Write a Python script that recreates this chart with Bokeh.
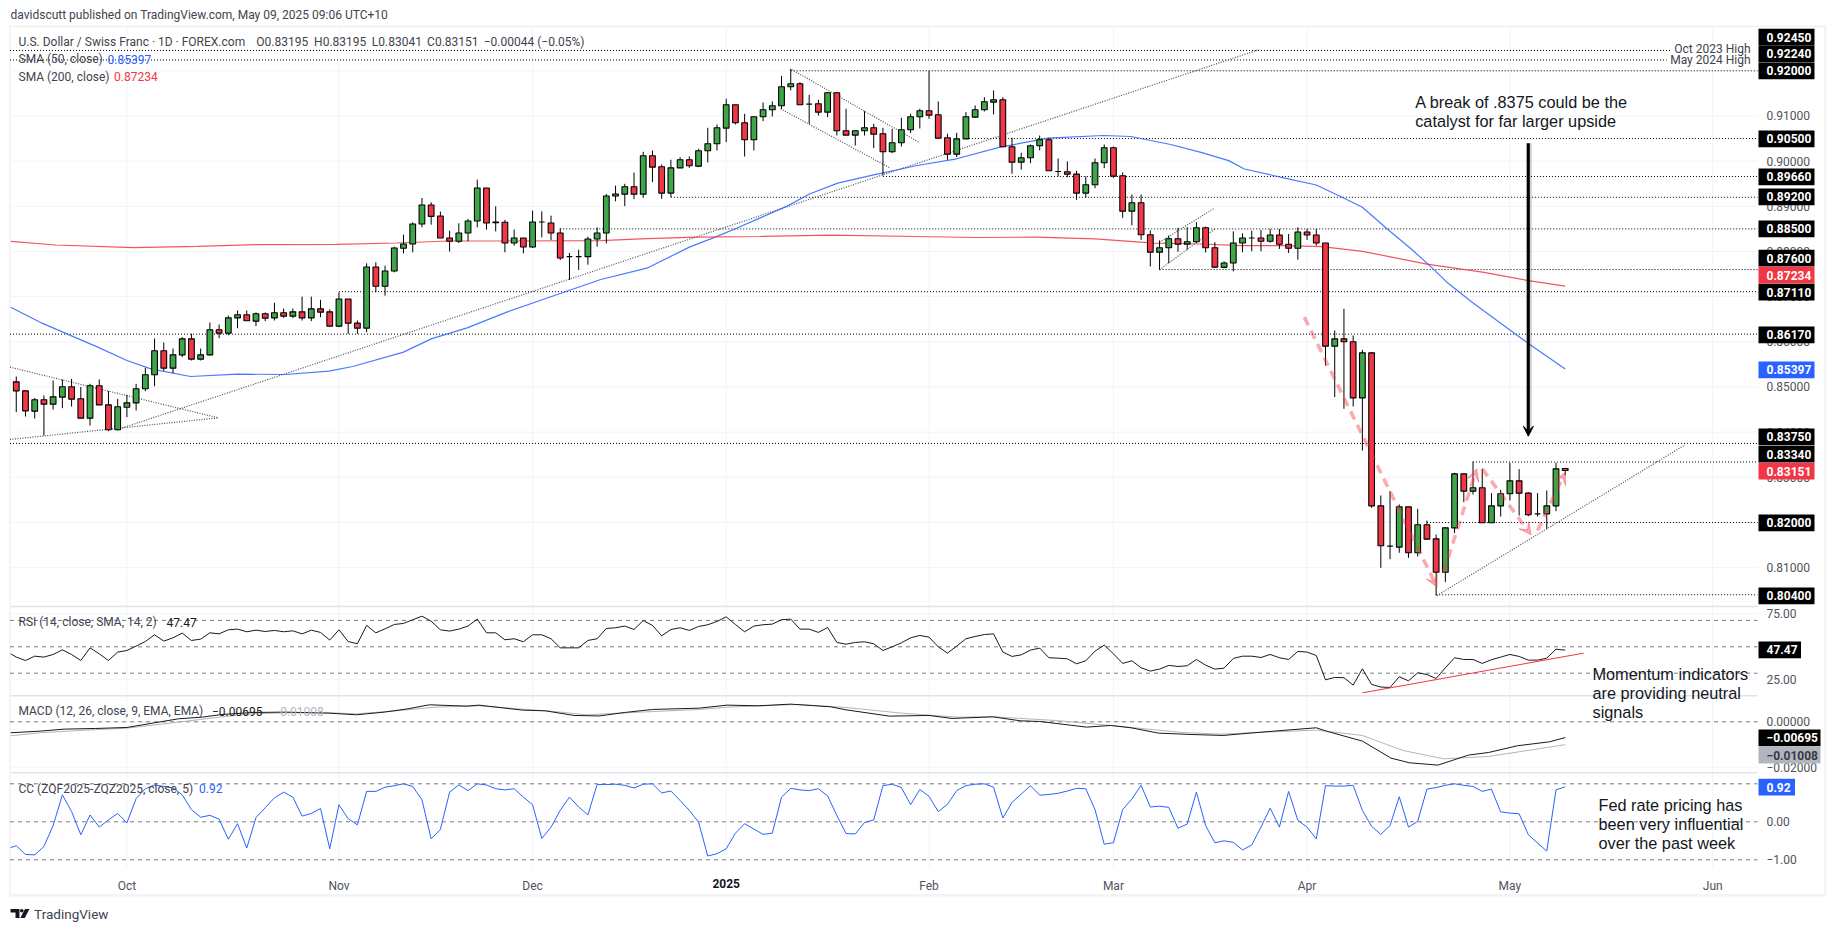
from bokeh.plotting import figure
from bokeh.models import (Range1d, LinearAxis, FixedTicker, Arrow, VeeHead, ColumnDataSource)
from bokeh.core.properties import value
from bokeh.embed import file_html
from bokeh.resources import INLINE

# ---------- data ----------
opens = [
 .85114,.84915,.84465,.84716,.8462,.84775,.85004,.84738,.8431,.85026,
 .84605,.84052,.84553,.84649,.8496,.8527,.85801,.85417,.85712,.86066,
 .85616,.85712,.86266,.86192,.86531,.86598,.86458,.8662,.86531,.86642,
 .86568,.86664,.86531,.8673,.86664,.86347,.86948,.86413,.86303,.87657,
 .87229,.87568,.8807,.88166,.88609,.8903,.88786,.88299,.88225,.8841,
 .88675,.89406,.88653,.88646,.88188,.883,.881,.88653,.88631,.8841,
 .87886,.87886,.87886,.88277,.8841,.89229,.89269,.89432,.89269,.90118,
 .89875,.89292,.89852,.9003,.89889,.90229,.90384,.90731,.91247,.90849,
 .90472,.90982,.91137,.91225,.91646,.91712,.91262,.91269,.91085,.91513,
 .90672,.90576,.90672,.90738,.90605,.90207,.90406,.90694,.90982,.91114,
 .91026,.90517,.90155,.90494,.90974,.91137,.91306,.91358,.90317,.89978,
 .90074,.9034,.90472,.89771,.89764,.89712,.89292,.89476,.89963,.90295,
 .89675,.88893,.89078,.88369,.87985,.88081,.88281,.88162,.88214,.88524,
 .88081,.87649,.87745,.88188,.883,.883,.88225,.88365,.88159,.8807,
 .88432,.88365,.88188,.85904,.86066,.86,.8476,.85756,.82369,.81476,
 .81454,.82347,.81329,.81949,.81638,.809,.81882,.83077,.82694,.82768,
 .81993,.82369,.82635,.82922,.8265,.82192,.82192,.82369,.83195]
highs = [
 .85232,.84915,.8476,.84812,.85144,.85166,.85181,.85,.8507,.85166,
 .84908,.84738,.84827,.8507,.85424,.86074,.85985,.85852,.86103,.86177,
 .85852,.86428,.86384,.86583,.86694,.86694,.8665,.8665,.86863,.86738,
 .86738,.87,.87,.8693,.8672,.87096,.86948,.86472,.87738,.8776,
 .87686,.88107,.88373,.88646,.89184,.89089,.88882,.88461,.88624,.8872,
 .8959,.89406,.89,.887,.88483,.883,.88904,.88889,.88793,.88513,
 .87967,.88041,.88328,.88535,.89273,.89458,.89498,.89749,.90207,.90236,
 .89926,.9003,.90089,.90103,.90273,.90738,.90812,.9138,.91247,.91048,
 .90982,.91299,.9132,.91889,.92044,.91749,.91469,.91358,.91528,.91528,
 .91159,.9068,.91107,.90827,.90738,.90716,.90959,.91048,.91159,.92,
 .9132,.90605,.90627,.91085,.91232,.91417,.91565,.91417,.90517,.90185,
 .90369,.90568,.90517,.90059,.89993,.89786,.89661,.90059,.90369,.90325,
 .89749,.89262,.89262,.88465,.88244,.88354,.88524,.88539,.88649,.88554,
 .88207,.87782,.88446,.88402,.88461,.88476,.885,.885,.88387,.88535,
 .885,.885,.88188,.86251,.86731,.8614,.85823,.85771,.82598,.82694,
 .82399,.82347,.82303,.82044,.81734,.81897,.83099,.83077,.83351,.83188,
 .8265,.82723,.83321,.83181,.82672,.8265,.82709,.83321,.83195]
lows = [
 .84443,.84347,.84303,.83926,.84502,.84531,.84568,.8431,.84148,.84605,
 .84022,.84037,.84332,.8448,.84908,.85018,.85358,.85306,.85661,.85587,
 .85587,.85697,.86081,.86148,.86303,.86465,.86347,.86458,.86472,.86531,
 .86524,.86472,.86458,.86546,.86347,.86325,.86177,.86177,.86214,.87096,
 .87022,.87539,.87959,.87982,.88535,.88594,.88299,.87999,.88188,.88225,
 .88535,.88483,.88446,.87982,.88129,.87959,.88077,.88314,.88255,.87812,
 .87369,.8759,.87708,.88107,.88181,.89111,.89004,.89159,.89188,.89535,
 .89166,.89203,.89852,.89852,.89867,.89971,.90236,.90421,.90812,.90103,
 .90236,.90886,.90989,.91151,.91565,.91247,.90826,.91011,.90974,.90568,
 .90576,.90347,.90568,.90288,.89683,.90177,.90325,.9062,.90723,.90937,
 .90509,.9003,.90089,.90494,.90959,.911,.91033,.90317,.8972,.89815,
 .89956,.90236,.89786,.89661,.89646,.89144,.89188,.89402,.89845,.89631,
 .88745,.88576,.88258,.87668,.87594,.87742,.87993,.88037,.88185,.87978,
 .87638,.87627,.87561,.87982,.88004,.88004,.88196,.88055,.87967,.87819,
 .88255,.88129,.85476,.84775,.84517,.84568,.83594,.82325,.80996,.81188,
 .81329,.81218,.81247,.81616,.80384,.80679,.81764,.8245,.8262,.81993,
 .81993,.82133,.82487,.82155,.8214,.82133,.8186,.82251,.83041]
closes = [
 .84915,.84472,.84716,.8462,.84782,.85004,.84731,.8431,.85026,.84605,
 .84052,.84561,.84649,.8496,.8527,.85801,.85417,.85712,.86066,.85616,
 .85712,.86266,.86192,.86531,.86598,.86465,.8662,.86524,.86642,.86568,
 .86664,.86531,.8673,.86657,.86347,.86948,.86413,.86303,.87657,.87229,
 .87568,.88077,.88166,.88609,.8903,.88778,.88299,.88225,.8841,.88675,
 .89406,.88631,.88639,.88188,.883,.881,.88653,.88653,.8841,.87856,
 .87886,.87886,.88277,.8841,.89229,.89273,.89432,.89269,.90118,.89867,
 .89292,.89852,.9003,.89897,.90229,.90384,.90738,.91247,.90849,.90472,
 .90982,.91137,.91225,.91646,.91712,.91247,.91262,.91085,.91513,.90672,
 .90576,.90672,.90738,.90598,.90207,.90406,.90694,.90982,.91114,.91018,
 .90509,.90155,.90494,.90982,.91137,.91314,.91358,.90317,.89978,.90074,
 .9034,.90472,.89786,.89771,.89712,.89292,.89476,.89963,.90295,.89668,
 .88893,.89078,.88369,.87985,.88081,.88281,.88162,.88214,.88524,.88081,
 .87653,.87745,.88188,.883,.883,.88225,.88365,.88159,.8807,.88432,
 .88365,.88188,.85904,.86066,.86,.8476,.85756,.82369,.81484,.81476,
 .82347,.81329,.81949,.81631,.809,.81882,.83077,.82694,.82768,.81993,
 .82369,.82635,.82922,.8265,.8217,.82192,.82369,.83188,.83151]

sma50_x = [-0.6,2.8,5.8,8.6,12,14.6,18.9,24,29.2,33.9,36.5,42,45,48.9,53.2,56.8,63.4,68.5,73,75.8,78,83.6,86.1,89.1,93,97.7,102,106.7,111.9,117.9,120.9,125.2,128.5,131.5,133.2,137.7,141,143.8,146,148.7,151.3,153.3,155.3,157.9,161,163.8,168]
sma50_y = [.86767,.86413,.86148,.85904,.85587,.85402,.85232,.85284,.85277,.8535,.85454,.85771,.86066,.8631,.86657,.86915,.8738,.87638,.88096,.88317,.88502,.89004,.89277,.89513,.89697,.89904,.90052,.9031,.90509,.90568,.90546,.90369,.90195,.90011,.89826,.8962,.89472,.89199,.88978,.88498,.88055,.87686,.87295,.86875,.86413,.85993,.85397]
sma200_x = [-0.6,4.3,12.7,19.7,26.2,34.7,41.2,46.8,54,63.4,67.7,73.7,80.6,88.3,97.7,104.1,110.6,117,123.4,128.5,132.9,137.3,141.6,146,153,159.2,164,168]
sma200_y = [.88225,.88144,.88085,.88114,.88151,.88159,.88188,.88232,.88232,.8824,.8828,.88317,.88332,.88362,.88332,.8831,.88317,.8828,.88185,.88166,.88129,.88129,.88107,.88004,.8772,.87539,.87354,.87234]

rsi_vals = [44.7,
 42.2,39.6,42.9,42.2,44.2,47.7,44.2,39.6,49.2,44.7,
 39.6,46.0,47.2,50.5,54.0,59.1,54.3,56.8,60.4,54.8,
 55.8,60.6,59.8,62.9,63.4,61.4,62.6,61.6,62.4,61.4,
 62.1,59.8,62.6,60.9,55.1,62.9,54.0,52.3,66.2,60.6,
 63.6,66.9,67.7,70.5,73.2,69.4,62.9,61.9,63.4,65.7,
 71.0,60.6,60.6,55.3,56.1,53.8,59.1,59.1,56.1,49.2,
 49.2,49.2,54.8,56.1,63.9,64.4,65.7,63.1,69.9,66.2,
 58.3,63.1,64.4,62.4,65.4,66.7,69.2,72.7,66.9,61.4,
 65.7,66.7,67.2,70.5,71.0,63.4,63.4,60.9,64.6,53.3,
 52.0,53.3,53.8,52.3,47.2,50.0,53.0,56.8,58.6,57.3,
 50.0,45.2,50.5,56.1,57.8,59.3,59.8,46.0,42.7,43.9,
 47.5,49.0,41.7,41.4,40.9,37.1,39.4,46.7,51.3,44.7,
 37.4,39.4,34.1,31.6,33.1,35.9,35.1,35.6,40.4,36.1,
 33.1,33.8,41.2,42.9,42.9,41.9,44.2,41.7,40.4,46.5,
 46.0,43.4,25.0,26.8,26.6,21.0,33.3,21.5,19.5,19.2,
 27.3,24.2,30.3,29.0,26.0,34.1,41.7,40.4,40.4,37.4,
 40.2,42.2,44.2,42.7,39.9,39.9,41.4,48.2,47.47]

macd_x = [-0.6,2.6,5.2,8.6,12,15,17.6,20.2,22.3,25.7,29.2,33.9,36.9,39.9,42.5,44.8,48.9,50.2,54.9,57.4,60.5,63.2,66,69,74.1,77.1,80.5,84,88.3,90,94.7,99,101.5,105.9,108.9,111,116.1,118.7,120.9,123.9,127.3,130.9,134.2,136.4,141,142.1,146,149.1,151.1,154.2,157.5,159.7,162.8,166.3,168]
macd_y = [-.00484,-.00411,-.00323,-.00294,-.0025,-.00044,.00132,.00206,.00323,.00411,.00426,.00382,.00308,.00426,.00573,.00749,.0069,.00734,.00514,.00484,.00279,.00257,.00411,.00543,.00602,.00734,.00705,.00778,.00661,.00528,.0025,.00279,.00147,.0022,.00044,.00015,-.00235,-.00161,-.00264,-.00499,-.00558,-.00602,-.00484,-.00411,-.00264,-.00411,-.00851,-.016,-.01806,-.01908,-.01468,-.01351,-.01057,-.00881,-.00695]
signal_x = [-0.6,2.6,6.9,12,17.6,22.3,25.7,29.2,33.9,36.9,41.2,45.5,50.2,54.9,58.3,61.8,67.7,74.1,77.1,84.8,90,96,102,105.9,112.7,118.7,126.4,130.6,136.4,141,146,150.4,154.8,159.7,168]
signal_y = [-.00617,-.00484,-.00382,-.00279,-.00015,.0022,.00352,.00396,.00396,.00352,.00484,.00646,.00705,.00558,.00455,.00308,.00426,.00543,.00646,.00763,.00631,.00382,.00206,.0022,.00059,-.00161,-.0047,-.00543,-.0044,-.00367,-.00602,-.01262,-.0163,-.01527,-.01008]

cc_vals = [-.68,
 -.63,-.86,-.87,-.65,-.10,.71,.27,-.34,.18,-.14,
 .05,.22,-.03,.61,.87,.97,.93,.89,.71,.32,
 .12,.17,.07,-.46,-.05,-.69,.11,.37,.63,.78,
 .65,.15,.22,.35,-.71,.45,.08,-.08,.80,.80,
 .91,.95,1.0,.93,.58,-.45,-.20,.78,.97,.82,
 1.0,.97,.87,.84,.87,.65,.45,-.44,-.14,.30,
 .65,.39,.18,.98,.98,.99,.96,.89,.99,1.0,
 .76,.81,.56,.30,-.01,-.90,-.84,-.71,-.30,-.05,
 -.19,-.33,-.30,.65,.88,.84,.82,.87,.68,.17,
 -.31,-.32,-.02,.05,.95,.99,.90,.45,.85,.67,
 .27,.46,.82,.95,.99,1.0,.91,.10,.51,.73,
 .95,.70,.72,.75,.81,.88,.87,.32,-.59,-.55,
 .32,.60,.96,.39,.41,.38,-.17,-.06,.78,-.10,
 -.55,-.50,-.54,-.74,-.61,-.14,.36,-.14,.80,.04,
 -.14,-.45,.95,.94,.94,.96,.30,-.12,-.33,-.10,
 .66,-.14,.01,.86,.90,.96,1.0,.96,.93,.80,
 .86,.26,.23,.21,-.34,-.56,-.77,.84,.92]

time_ticks = [12,35,56,77,99,119,140,162,184]
time_labels = ["Oct","Nov","Dec","2025","Feb","Mar","Apr","May","Jun"]
price_ticks = [.81,.82,.83,.84,.85,.86,.87,.88,.89,.90,.91,.92]
rsi_ticks = [25,75]
rsi_bands = [70,50,30]
macd_ticks = [0,-.02]
cc_ticks = [-1,0,1]

level_vals = [.9245,.9224,.92,.905,.8966,.892,.885,.876,.8711,.8617,.8375,.8334,.82,.804]
level_from = [-0.68,-0.68,84,103,94,71,59,124,35,-0.68,-0.68,158,153,154]
level_to   = [179.5,179,188.85,188.85,188.85,188.85,188.85,188.85,188.85,188.85,188.85,188.85,188.85,188.85]

trend_x0 = [11,-0.68,-0.68,84.1,82.9,124,124,154.1]
trend_y0 = [.84059,.85439,.83838,.9203,.91159,.88207,.87594,.80384]
trend_x1 = [134.8,21.9,21.9,98,94.8,130,130,181]
trend_y1 = [.92469,.84317,.84317,.90406,.89845,.88963,.885,.8372]

swing_x0 = [139.7,154.8,159,165]
swing_y0 = [.86546,.809,.83188,.81823]
swing_x1 = [154.1,158.4,164.3,168]
swing_y1 = [.80568,.83188,.81727,.83114]

badge_text = ["0.92450","0.92240","0.92000","0.90500","0.89660","0.89200","0.88500","0.87600","0.87234","0.87110",
              "0.86170","0.85397","0.83750","0.83340","0.83151","0.82000","0.80400","47.47","\u22120.00695","\u22120.01008","0.92"]
badge_fill = ["black"]*8+["#f23645","black","black","#2962ff","black","black","#f23645","black","black","black","black","#b2b5be","#2962ff"]
badge_ink  = ["white"]*19+["#363a45","white"]
badge_ypx  = [36.7,53.4,70.3,138.3,176.3,196.3,228.3,257.7,274.7,291.7,334.3,369.3,436.3,453.7,470.7,522.3,595.3,649.3,737.3,754.7,786.7]
badge_xpx  = [1814]*17+[1800.5,1820,1820,1794.5]

# ---------- geometry of the page ----------
BAR0, PITCH = 15.76, 9.22
W0, W1, H0, H1 = 0, 1827, 0, 923
def xrange_from_px():
    return Range1d((W0-BAR0)/PITCH, (W1-BAR0)/PITCH)
def yrange(v0, y0, scale):
    return Range1d(v0-(H1-y0)/scale, v0+(y0-H0)/scale)
AX = 188.85
LEFT = -0.68

p = figure(width=W1-W0, height=H1-H0, x_range=xrange_from_px(), y_range=yrange(.92,70.3,4517),
           x_axis_type=None, y_axis_type=None, toolbar_location=None, output_backend="svg",
           min_border=0, outline_line_color=None, background_fill_color="white", border_fill_color="white")
p.grid.visible = False
p.extra_x_ranges["px"] = Range1d(W0, W1)
p.extra_y_ranges["px"] = Range1d(H1, H0)
p.extra_y_ranges["rsi"] = yrange(50,646.3,1.32)
p.extra_y_ranges["macd"] = yrange(0,721.3,2270)
p.extra_y_ranges["cc"] = yrange(0,821.3,38)

GRID = "#f0f3fa"; SEP = "#e0e3eb"; BAND = "#f4f4f4"; INK = "#3f434e"
UP = "#3fa548"; DOWN = "#f23645"; BLUE = "#2962ff"

# frame bands
p.quad(left=[8.5,8.5,8.5,1823.5], right=[1826,10.5,1826,1826], top=[25,25,893.5,25], bottom=[27,896,896,896],
       x_range_name="px", y_range_name="px", fill_color=BAND, line_color=None)

# grids
n = len(time_ticks)
p.segment(x0=time_ticks, x1=time_ticks, y0=[27]*n, y1=[866.7]*n, y_range_name="px", line_color=GRID, line_width=1)
for name, ticks in (("default",price_ticks),("rsi",rsi_ticks),("macd",macd_ticks)):
    m=len(ticks)
    p.segment(x0=[LEFT]*m, x1=[AX]*m, y0=ticks, y1=ticks, y_range_name=name, line_color=GRID, line_width=1)
p.segment(x0=[10.5,10.5,10.5], x1=[1757,1757,1757], y0=[606,695.3,772.3], y1=[606,695.3,772.3],
          x_range_name="px", y_range_name="px", line_color=SEP, line_width=1.4)

# bands
DASH=value([4,4]); DOT=value([1,2]); FINE=value([1,1.5])
p.segment(x0=[LEFT]*3,x1=[AX]*3,y0=rsi_bands,y1=rsi_bands,y_range_name="rsi",line_color="#787b86",line_width=1,line_dash=DASH)
p.segment(x0=[LEFT],x1=[AX],y0=[0],y1=[0],y_range_name="macd",line_color="#787b86",line_width=1,line_dash=DASH)
p.segment(x0=[LEFT]*3,x1=[AX]*3,y0=cc_ticks,y1=cc_ticks,y_range_name="cc",line_color="#787b86",line_width=1,line_dash=DASH)

# levels and trendlines
p.segment(x0=level_from,x1=level_to,y0=level_vals,y1=level_vals,line_color="black",line_width=1,line_dash=DOT)
p.segment(x0=trend_x0,x1=trend_x1,y0=trend_y0,y1=trend_y1,line_color="#4a4d57",line_width=1.2,line_dash=FINE)

# moving averages
p.line(sma50_x,sma50_y,line_color=BLUE,line_width=1.2,line_alpha=.85)
p.line(sma200_x,sma200_y,line_color=DOWN,line_width=1.2,line_alpha=.85)

# candles
bars = list(range(len(opens)))
src = ColumnDataSource(dict(x=bars,o=opens,h=highs,l=lows,c=closes,
      fill=[UP if c>o else DOWN for o,c in zip(opens,closes)]))
p.segment(x0="x",x1="x",y0="h",y1="l",source=src,line_color="black",line_width=1)
p.vbar(x="x",width=.62,top="o",bottom="c",source=src,fill_color="fill",line_color="black",line_width=1.1)

# swing arrows
for a,b,c,d in zip(swing_x0,swing_y0,swing_x1,swing_y1):
    p.add_layout(Arrow(x_start=a,y_start=b,x_end=c,y_end=d,line_color=DOWN,line_alpha=.42,line_width=3.6,line_dash=value([9,6]),
        end=VeeHead(size=12,fill_color=DOWN,fill_alpha=.42,line_color=DOWN,line_alpha=.42,line_width=1)))

# big arrow
p.segment(x0=[164.05],x1=[164.05],y0=[.90395],y1=[.8400],line_color="black",line_alpha=.18,line_width=6)
p.add_layout(Arrow(x_start=164,y_start=.90395,x_end=164,y_end=.83911,line_color="black",line_width=3,
    end=VeeHead(size=10,fill_color="black",line_color="black",line_width=1)))

# indicators
ind_x = [-0.6]+bars
p.line(ind_x,rsi_vals,y_range_name="rsi",line_color="#1a1a1a",line_width=1)
p.segment(x0=[146],x1=[170],y0=[15.1],y1=[45.2],y_range_name="rsi",line_color=DOWN,line_width=1)
p.line(signal_x,signal_y,y_range_name="macd",line_color="#b2b5be",line_width=1)
p.line(macd_x,macd_y,y_range_name="macd",line_color="#1a1a1a",line_width=1)
p.line(ind_x,cc_vals,y_range_name="cc",line_color=BLUE,line_width=1)

# axes
def yaxis(name, ticks, labels):
    ax = LinearAxis(y_range_name=name, ticker=FixedTicker(ticks=ticks), major_label_overrides=labels,
                    fixed_location=AX, axis_line_color=None, major_tick_line_color=None, minor_tick_line_color=None,
                    major_label_standoff=3, major_label_text_font="Roboto", major_label_text_font_size="12px",
                    major_label_text_color="#50535e")
    p.add_layout(ax,"right")
yaxis("default",price_ticks,{t:f"{t:.5f}" for t in price_ticks})
yaxis("rsi",rsi_ticks,{t:f"{t:.2f}" for t in rsi_ticks})
yaxis("macd",macd_ticks,{0:"0.00000",-.02:"\u22120.02000"})
yaxis("cc",cc_ticks,{-1:"\u22121.00",0:"0.00",1:"1.00"})

xloc = .92-(866.7-70.3)/4517
xlab = {t:(l if l!="2025" else "") for t,l in zip(time_ticks,time_labels)}
xa = LinearAxis(ticker=FixedTicker(ticks=time_ticks), major_label_overrides=xlab, fixed_location=xloc,
    axis_line_color=None, major_tick_line_color=None, minor_tick_line_color=None, major_label_standoff=6,
    major_label_text_font="Roboto", major_label_text_font_size="12px", major_label_text_color="#50535e")
p.add_layout(xa,"below")
xb = LinearAxis(ticker=FixedTicker(ticks=[77]), major_label_overrides={77:"2025"}, fixed_location=xloc,
    axis_line_color=None, major_tick_line_color=None, minor_tick_line_color=None, major_label_standoff=6,
    major_label_text_font="Roboto", major_label_text_font_size="12px", major_label_text_color="#131722",
    major_label_text_font_style="bold")
p.add_layout(xb,"below")

# badges
hh=8.35
p.quad(left=[1758]*len(badge_text),right=badge_xpx,top=[y-hh for y in badge_ypx],bottom=[y+hh for y in badge_ypx],
       fill_color=badge_fill,line_color=None,x_range_name="px",y_range_name="px",level="overlay")
p.text(x=[1766]*len(badge_text),y=badge_ypx,text=badge_text,text_color=badge_ink,text_font=value("Roboto"),
       text_font_size="12px",text_font_style="bold",text_baseline="middle",x_range_name="px",y_range_name="px",level="overlay")

# free text
def txt(x,y,s,color=INK,size="12px",font="Roboto",align="left"):
    p.text(x=[x],y=[y],text=[s],text_color=color,text_font=value(font),text_font_size=size,text_baseline="middle",
           text_align=align,x_range_name="px",y_range_name="px")
txt(10,14.5,"davidscutt published on TradingView.com, May 09, 2025 09:06 UTC+10",size="12px")
txt(18,41.3,"U.S. Dollar / Swiss Franc \u00b7 1D \u00b7 FOREX.com")
txt(255.8,41.3,"O0.83195"); txt(313.6,41.3,"H0.83195"); txt(371.3,41.3,"L0.83041"); txt(426.6,41.3,"C0.83151")
txt(483.2,41.3,"\u22120.00044 (\u22120.05%)")
txt(18,58.7,"SMA (50, close)"); txt(107,58.7,"0.85397",color=BLUE)
txt(18,76,"SMA (200, close)"); txt(113.5,76,"0.87234",color=DOWN)
txt(18,621.7,"RSI (14, close, SMA, 14, 2)"); txt(166,621.7,"47.47",color="#1a1a1a")
txt(18,710.7,"MACD (12, 26, close, 9, EMA, EMA)"); txt(211.5,710.7,"\u22120.00695",color="#1a1a1a"); txt(272.8,710.7,"\u22120.01008",color="#b2b5be")
txt(18,788,"CC (ZQF2025-ZQZ2025, close, 5)"); txt(198.5,788,"0.92",color=BLUE)
txt(1750,48.7,"Oct 2023 High",align="right")
txt(1750,59.3,"May 2024 High",align="right")
ANN="16.3px"
for y,s in ((101,"A break of .8375 could be the"),(120,"catalyst for far larger upside")):
    txt(1414.7,y,s,color="#131722",size=ANN,font="Liberation Sans")
for y,s in ((673,"Momentum indicators"),(692,"are providing neutral"),(711,"signals")):
    txt(1592,y,s,color="#131722",size=ANN,font="Liberation Sans")
for y,s in ((804,"Fed rate pricing has"),(823,"been very influential"),(842,"over the past week")):
    txt(1598,y,s,color="#131722",size=ANN,font="Liberation Sans")

# logo
p.patches(xs=[[10,19,19,15,15,10],[24.5,29,24.2,19.8]], ys=[[908.5,908.5,917.5,917.5,912,912],[908.5,908.5,917.5,917.5]],
          fill_color="#131722",line_color=None,x_range_name="px",y_range_name="px")
p.scatter(x=[21.3],y=[910.2],size=3.6,fill_color="#131722",line_color=None,x_range_name="px",y_range_name="px")
txt(33.6,913,"TradingView",color="#3f434e",size="13.5px")

open("out.html","w").write(file_html(p,INLINE))
